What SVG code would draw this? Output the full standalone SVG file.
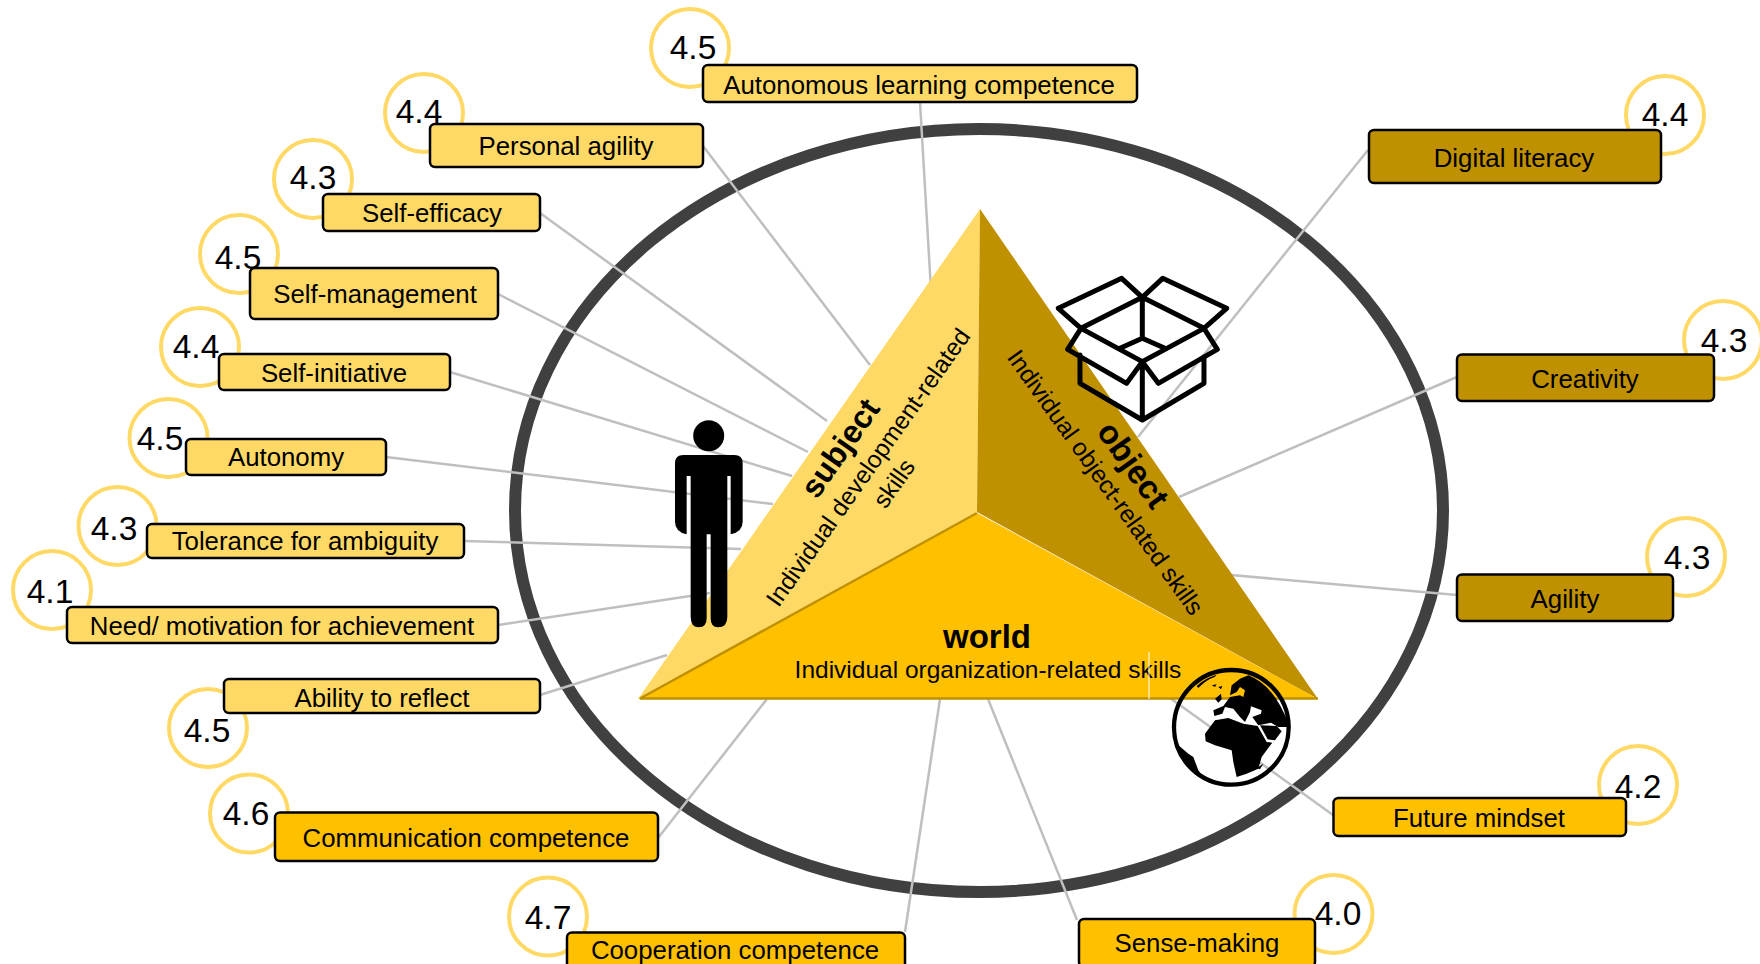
<svg xmlns="http://www.w3.org/2000/svg" width="1760" height="964" viewBox="0 0 1760 964">
<style>
text{font-family:"Liberation Sans",Arial,sans-serif;fill:#000;text-anchor:middle}
.l{font-size:25.8px}
.n{font-size:33.5px}
.s{font-size:24.5px}
.b{font-size:33px;font-weight:bold}
.c{fill:#fff;stroke:#FFD966;stroke-width:4}
.y{fill:#FFD966;stroke:#000;stroke-width:2.5}
.o{fill:#FFC000;stroke:#000;stroke-width:2.5}
.d{fill:#BF9000;stroke:#000;stroke-width:2.5}
#connectors line{stroke:#BFBFBF;stroke-width:2.5}
#box path{fill:none;stroke:#000;stroke-width:15;stroke-linejoin:round;stroke-linecap:round}
</style>
<rect width="1760" height="964" fill="#fff"/>
<g id="ring"><ellipse cx="979" cy="510.500" rx="464" ry="381.500" fill="#fff" stroke="#404040" stroke-width="12"/></g>
<g id="connectors">
<line x1="920" y1="102" x2="931" y2="290"/>
<line x1="703" y1="146" x2="870" y2="365"/>
<line x1="540" y1="213" x2="827" y2="421"/>
<line x1="498" y1="294" x2="808" y2="452"/>
<line x1="450" y1="372" x2="792" y2="476"/>
<line x1="386" y1="457" x2="773" y2="504"/>
<line x1="464" y1="541" x2="741" y2="549"/>
<line x1="498" y1="625" x2="710" y2="593"/>
<line x1="540" y1="695" x2="667" y2="655"/>
<line x1="658" y1="838" x2="767" y2="699"/>
<line x1="905" y1="932" x2="940" y2="699"/>
<line x1="1077" y1="920" x2="988" y2="699"/>
<line x1="1333" y1="815" x2="1170" y2="698"/>
<line x1="1457" y1="595" x2="1231" y2="575"/>
<line x1="1457" y1="377" x2="1179" y2="497"/>
<line x1="1368" y1="150" x2="1138" y2="437"/>
</g>
<g id="pyramid">
<polygon points="980,209 977,512 638,699" fill="#FFD966"/>
<polygon points="980,209 977,512 1318,699" fill="#BF9000"/>
<polygon points="977,513 638,699 1318,699" fill="#FFC000"/>
<polyline points="977,513 640,698.500 1318,698.500" fill="none" stroke="#BF9000" stroke-width="2.5"/>
<text class="b" style="font-size:32px" transform="translate(840,448) rotate(-55)" y="11">subject</text>
<text class="s" transform="translate(867.500,467) rotate(-54.700)" y="9">Individual development-related</text>
<text class="s" transform="translate(893.500,483) rotate(-54.700)" y="9">skills</text>
<text class="b" transform="translate(1133,465) rotate(54.500)" y="11">object</text>
<text class="s" transform="translate(1106,482) rotate(54.500)" y="9">Individual object-related skills</text>
<text class="b" x="987" y="648">world</text>
<text class="s" x="988" y="678">Individual organization-related skills</text>
<line x1="1149" y1="652" x2="1149" y2="699" stroke="#fff" stroke-width="1"/>
</g>
<g id="person"><circle cx="708.700" cy="435.700" r="15.500"/>
<path transform="translate(640,400) scale(.3333)" d="M130,165H283Q308,165 308,190V365Q308,395 272,403V228H262V650Q262,682 234,682Q212,682 212,655V403H200V655Q200,682 177,682Q152,682 152,650V228H140V403Q105,395 105,365V190Q105,165 130,165Z"/></g>
<g id="box" transform="translate(1000,240) scale(.3333)">
<path d="M427,172L365,115L175,205L243,265M427,172L488,115L680,205L612,265M427,172L243,265L427,365L612,265L427,172M427,172V295M360,325L427,295L495,325M243,265L203,328L380,430L427,365M612,265L652,328L475,430L427,365M240,345V430L427,540L612,430V350M427,365V540"/>
</g>
<g id="globe" transform="translate(1165,662) scale(.3333)">
<circle cx="199" cy="196" r="172" fill="none" stroke="#000" stroke-width="13"/>
<path d="M250,40Q330,70 374,195L340,195L318,182L280,190L262,165L288,155L290,145L258,133L255,150L240,180L225,165L205,140L180,135L172,155L148,162L145,145L175,132L195,105L225,100L235,105L240,85L225,75L215,90L195,100L200,70L225,50Z"/>
<path d="M120,215L150,175L190,168L235,185L278,192L305,240L322,242L290,285L280,320L245,335L215,345L205,300L200,265L150,250L122,238Z"/>
<path d="M285,190L335,192L350,208L330,235L308,232Z"/>
<path d="M275,318L295,305L285,322Z"/>
<path d="M35,245L70,275L85,285L100,325L118,350Q55,320 35,245Z"/>
<path d="M95,72Q120,48 155,38L150,44Q120,55 100,78Z"/>
<path d="M140,70L155,67L150,75ZM160,75L172,72L168,82ZM150,110L168,95L170,112L160,122Z"/>
</g>
<g id="n1"><circle class="c" cx="690" cy="48" r="39"/><rect class="y" x="703" y="65" width="434" height="37" rx="5"/><text class="l" x="919" y="93.500">Autonomous learning competence</text><text class="n" x="693" y="59">4.5</text></g>
<g id="n2"><circle class="c" cx="424" cy="113" r="39"/><rect class="y" x="430" y="124" width="273" height="43" rx="5"/><text class="l" x="566" y="155">Personal agility</text><text class="n" x="419" y="123">4.4</text></g>
<g id="n3"><circle class="c" cx="313" cy="179" r="39"/><rect class="y" x="323" y="194" width="217" height="37" rx="5"/><text class="l" x="432" y="222">Self-efficacy</text><text class="n" x="313" y="189">4.3</text></g>
<g id="n4"><circle class="c" cx="239" cy="254" r="39"/><rect class="y" x="250" y="268" width="248" height="51" rx="5"/><text class="l" x="375" y="303">Self-management</text><text class="n" x="238" y="269">4.5</text></g>
<g id="n5"><circle class="c" cx="200" cy="347" r="39"/><rect class="y" x="219" y="354" width="231" height="36" rx="5"/><text class="l" x="334" y="382">Self-initiative</text><text class="n" x="196" y="358">4.4</text></g>
<g id="n6"><circle class="c" cx="168.500" cy="438" r="39"/><rect class="y" x="186" y="439" width="200" height="36" rx="5"/><text class="l" x="286" y="466">Autonomy</text><text class="n" x="160" y="450">4.5</text></g>
<g id="n7"><circle class="c" cx="117.500" cy="526" r="39"/><rect class="y" x="147" y="524" width="317" height="34" rx="5"/><text class="l" x="305" y="550">Tolerance for ambiguity</text><text class="n" x="114" y="540">4.3</text></g>
<g id="n8"><circle class="c" cx="52" cy="590" r="39"/><rect class="y" x="67" y="607" width="431" height="36" rx="5"/><text class="l" x="282" y="634.500">Need/ motivation for achievement</text><text class="n" x="50" y="603">4.1</text></g>
<g id="n9"><circle class="c" cx="208" cy="728" r="39"/><rect class="y" x="224" y="679" width="316" height="34" rx="5"/><text class="l" x="382" y="706.500">Ability to reflect</text><text class="n" x="207" y="742">4.5</text></g>
<g id="n10"><circle class="c" cx="249" cy="813.500" r="39"/><rect class="o" x="275" y="812.500" width="383" height="48.500" rx="5"/><text class="l" x="466" y="847">Communication competence</text><text class="n" x="246" y="825">4.6</text></g>
<g id="n11"><circle class="c" cx="548" cy="916.500" r="39"/><rect class="o" x="567" y="932.500" width="338" height="44" rx="5"/><text class="l" x="735" y="958.500">Cooperation competence</text><text class="n" x="548" y="929">4.7</text></g>
<g id="n12"><circle class="c" cx="1665" cy="115" r="39"/><rect class="d" x="1369" y="130" width="292" height="53" rx="5"/><text class="l" x="1514" y="167">Digital literacy</text><text class="n" x="1665" y="125.500">4.4</text></g>
<g id="n13"><circle class="c" cx="1723" cy="340" r="39"/><rect class="d" x="1457" y="354.500" width="257" height="46.500" rx="5"/><text class="l" x="1585" y="388">Creativity</text><text class="n" x="1724" y="351.500">4.3</text></g>
<g id="n14"><circle class="c" cx="1686" cy="557" r="39"/><rect class="d" x="1457" y="574.500" width="216" height="46.500" rx="5"/><text class="l" x="1565" y="608">Agility</text><text class="n" x="1687" y="569">4.3</text></g>
<g id="n15"><circle class="c" cx="1638" cy="785" r="39"/><rect class="o" x="1333.500" y="798" width="292.500" height="38" rx="5"/><text class="l" x="1479" y="826.500">Future mindset</text><text class="n" x="1638" y="798">4.2</text></g>
<g id="n16"><circle class="c" cx="1333.500" cy="914" r="39"/><rect class="o" x="1079" y="919" width="236" height="48" rx="5"/><text class="l" x="1197" y="952">Sense-making</text><text class="n" x="1338" y="925">4.0</text></g>
</svg>
